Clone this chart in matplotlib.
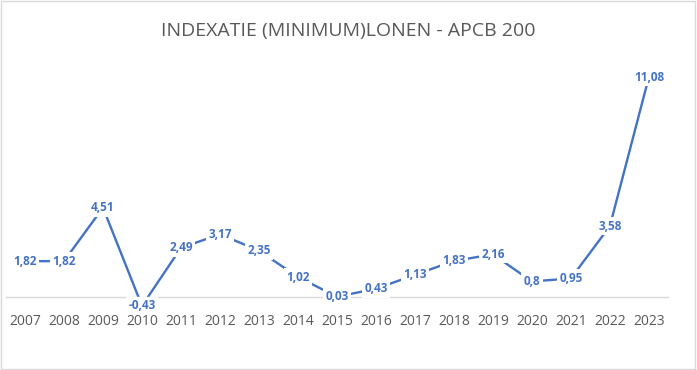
import matplotlib
matplotlib.use("Agg")
from matplotlib import pyplot as plt
from matplotlib.patches import Rectangle

years = [str(y) for y in range(2007, 2024)]
indexatie = [1.82, 1.82, 4.51, -0.43, 2.49, 3.17, 2.35, 1.02, 0.03,
             0.43, 1.13, 1.83, 2.16, 0.8, 0.95, 3.58, 11.08]
title = "INDEXATIE (MINIMUM)LONEN - APCB 200"

blue = "#4472C4"
gray = "#595959"

plt.rcParams["font.family"] = ["Open Sans", "DejaVu Sans"]

fig = plt.figure(figsize=(6.97, 3.70), dpi=100)
ax = fig.add_axes([0.0079, 0.089, 0.951, 0.752])

x = list(range(len(years)))
ax.plot(x, indexatie, color=blue, linewidth=1.7, solid_capstyle="butt")

for xi, v in zip(x, indexatie):
    label = f"{v:g}".replace(".", ",")
    ax.text(xi, v, label, ha="center", va="center", color=blue,
            fontsize=8.5, fontweight="bold", zorder=5,
            bbox=dict(boxstyle="square,pad=0.22", fc="white", ec="none"))

ax.set_xlim(-0.5, len(years) - 0.5)
ax.set_ylim(-2, 12)
ax.set_xticks(x)
ax.set_xticklabels(years, fontsize=8.5)
ax.set_yticks([])
for side in ["left", "right", "top"]:
    ax.spines[side].set_visible(False)
ax.spines["bottom"].set_position(("data", 0))
ax.spines["bottom"].set_color("#d9d9d9")
ax.spines["bottom"].set_linewidth(1.0)
ax.tick_params(axis="x", length=0, pad=12, labelcolor=gray)

fig.text(0.5, 0.915, title, ha="center", va="center", color=gray, fontsize=14)

fig.patches.append(Rectangle((0.002, 0.003), 0.995, 0.994, transform=fig.transFigure,
                             fill=False, ec="#d9d9d9", lw=1.0))

fig.savefig("out.png", dpi=100)
